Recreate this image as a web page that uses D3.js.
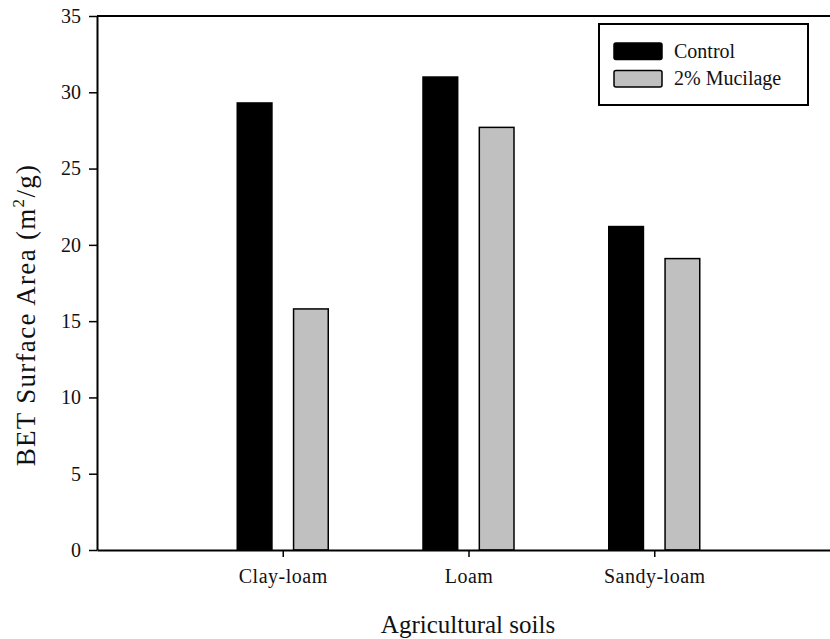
<!DOCTYPE html>
<html>
<head>
<meta charset="utf-8">
<script src="https://cdn.jsdelivr.net/npm/d3@7"></script>
<style>
  body { margin: 0; background: #fff; }
  svg { display: block; }
  svg text { font-family: "Liberation Serif", "DejaVu Serif", serif !important; }
</style>
</head>
<body>
<div id="chart"></div>
<script>
// data
const soils = ["Clay-loam", "Loam", "Sandy-loam"];
const series = ["Control", "2% Mucilage"];
const control = [29.3, 31.0, 21.2];
const mucilage = [15.8, 27.7, 19.1];
const yTicks = [0, 5, 10, 15, 20, 25, 30, 35];
const seriesColors = ["#000000", "#c0c0c0"];

const width = 830, height = 639;
const margin = { left: 97, top: 16, bottom: 550, right: 840 };

const svg = d3.select("#chart").append("svg")
    .attr("width", width)
    .attr("height", height);

// x: soils sit at 1, 2, 3 on a 0..4 axis
const x = d3.scaleLinear().domain([0, 4]).range([margin.left, margin.right]);
const sub = d3.scaleBand().domain(series).range([-45.5, 45.5]).paddingInner(0.384);
const y = d3.scaleLinear().domain([0, 35]).range([margin.bottom, margin.top]);

const values = [control, mucilage];

//bars
series.forEach((s, i) => {
    svg.append("g")
        .selectAll("rect")
        .data(soils)
        .enter()
        .append("rect")
        .attr("x", (d, j) => x(j + 1) + sub(s))
        .attr("y", (d, j) => y(values[i][j]))
        .attr("width", sub.bandwidth())
        .attr("height", (d, j) => y(0) - y(values[i][j]))
        .attr("fill", seriesColors[i])
        .attr("stroke", "#000")
        .attr("stroke-width", 1.5);
});

// y axis
const yAxis = svg.append("g")
    .attr("transform", `translate(${margin.left},0)`)
    .call(d3.axisLeft(y).tickValues(yTicks).tickSize(8).tickPadding(8).tickSizeOuter(0));
yAxis.select(".domain").attr("stroke-width", 2);
yAxis.selectAll(".tick line").attr("stroke-width", 1.5);
yAxis.selectAll(".tick text")
    .attr("font-size", 20)
    .attr("fill", "#111");

// x axis
const xAxis = svg.append("g")
    .attr("transform", `translate(0,${margin.bottom})`)
    .call(d3.axisBottom(x).tickValues([1, 2, 3]).tickFormat(d => soils[d - 1])
        .tickSize(7).tickPadding(12).tickSizeOuter(0));
xAxis.select(".domain").attr("stroke-width", 2);
xAxis.selectAll(".tick line").attr("stroke-width", 1.5);
xAxis.selectAll(".tick text")
    .attr("font-size", 20)
    .attr("letter-spacing", 0.5)
    .attr("fill", "#111");

// top frame line
svg.append("line")
    .attr("x1", margin.left).attr("x2", margin.right)
    .attr("y1", margin.top).attr("y2", margin.top)
    .attr("stroke", "#000").attr("stroke-width", 2);

// axis titles
svg.append("text")
    .attr("x", 468).attr("y", 633)
    .attr("text-anchor", "middle")
    .attr("font-size", 25)
    .attr("fill", "#111")
    .text("Agricultural soils");

const yt = svg.append("text")
    .attr("transform", "translate(35,315) rotate(-90)")
    .attr("text-anchor", "middle")
    .attr("font-size", 27)
    .attr("letter-spacing", 1.3)
    .attr("fill", "#111");
yt.append("tspan").text("BET Surface Area (m");
yt.append("tspan").attr("font-size", 17).attr("dy", -11).text("2");
yt.append("tspan").attr("dy", 11).text("/g)");

// legend
const legend = svg.append("g");
legend.append("rect")
    .attr("x", 599).attr("y", 24)
    .attr("width", 209).attr("height", 81)
    .attr("fill", "#fff")
    .attr("stroke", "#000").attr("stroke-width", 2);

series.forEach((s, i) => {
    legend.append("rect")
        .attr("x", 614).attr("y", 43 + i * 27.5)
        .attr("width", 48).attr("height", 16.5)
        .attr("rx", 2)
        .attr("fill", seriesColors[i])
        .attr("stroke", "#000").attr("stroke-width", 1.5);
    legend.append("text")
        .attr("x", 674).attr("y", 58 + i * 27)
        .attr("font-size", 20)
        .attr("fill", "#111")
        .text(s);
});
</script>
</body>
</html>
